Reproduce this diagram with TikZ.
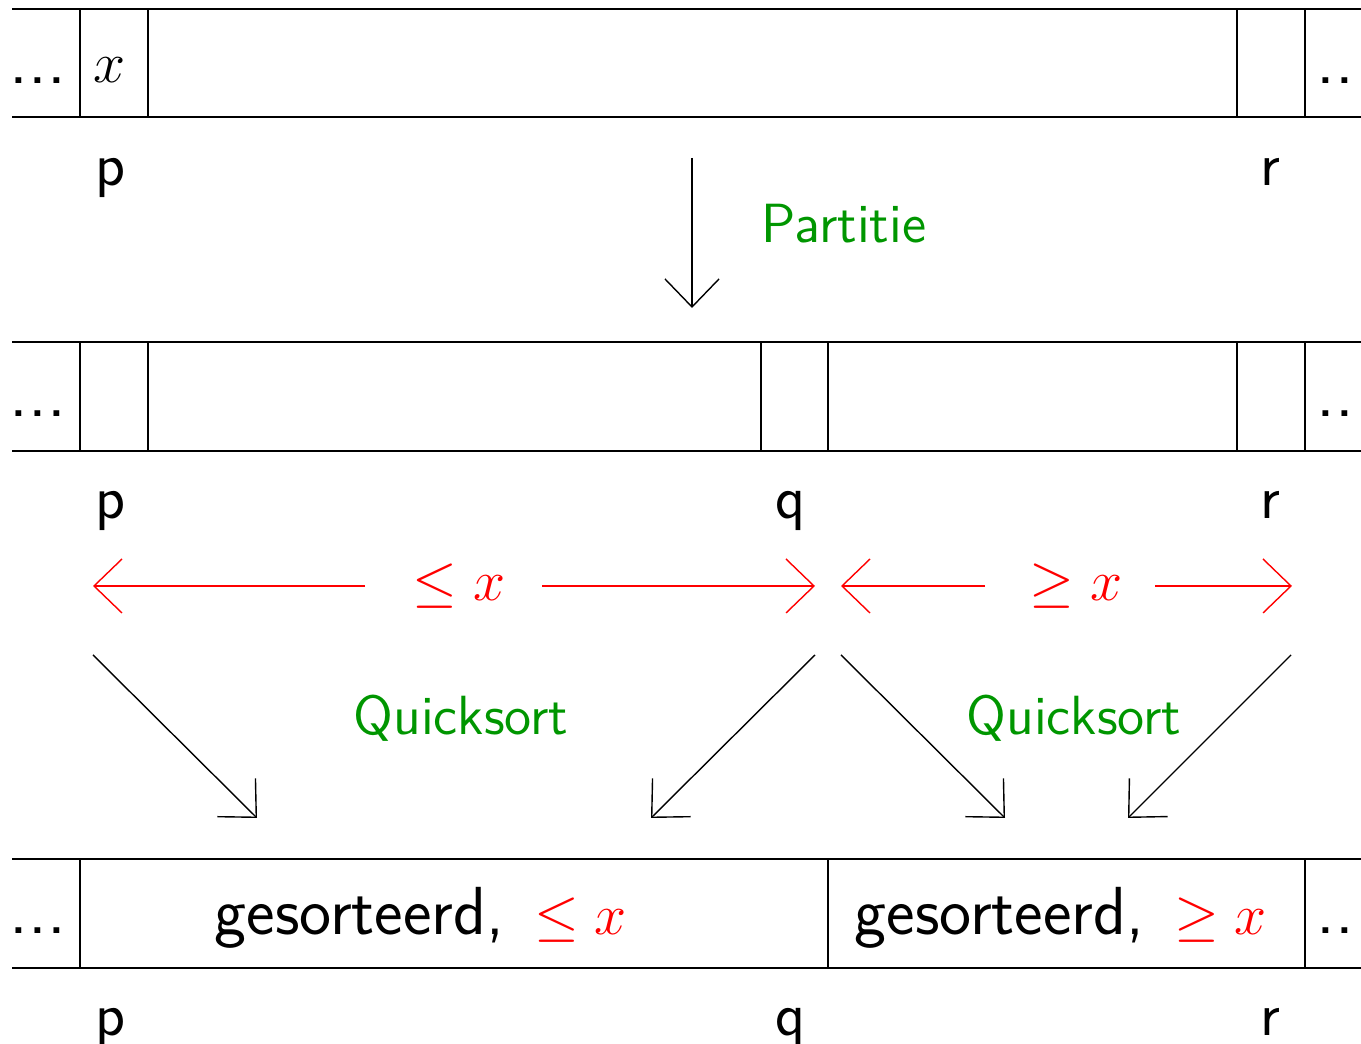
\documentclass[tikz,border=0pt]{standalone}
\usetikzlibrary{arrows.meta}
\definecolor{qsgreen}{RGB}{0,150,0}
\begin{document}
\begin{tikzpicture}[x=0.25pt,y=-0.25pt,
  cell/.style={line width=0.35pt,draw=black},
  lbl/.style={font=\sffamily\fontsize{15.5}{18}\selectfont,anchor=base,inner sep=0pt},
  dots/.style={font=\sffamily\fontsize{18}{20}\selectfont,anchor=base,inner sep=0pt},
  note/.style={font=\sffamily\fontsize{13.8}{16}\selectfont,anchor=base,inner sep=0pt,text=qsgreen},
  rel/.style={font=\fontsize{15}{18}\selectfont,anchor=base,inner sep=0pt,text=red},
  sorted/.style={font=\sffamily\fontsize{17}{20}\selectfont,anchor=base,inner sep=0pt},
  barb/.style={-{Straight Barb[length=7pt,width=13.5pt]}},
  flow/.style={barb,line width=0.35pt,draw=black},
  span/.style={barb,line width=0.35pt,draw=red}]
\useasboundingbox (0,0) rectangle (1361,1044);
\clip (0,0) rectangle (1361,1044);

% ---- array before partitioning
\draw[cell] (12,9) -- (1361,9) (12,117) -- (1361,117);
\foreach \c in {80,148,1237,1305} \draw[cell] (\c,9) -- (\c,117);
\node[dots] (d1l) at (38,84) {...};
\node[dots] (d1r) at (1335,84) {..};
\node[lbl] (pivot) at (110,83) {$x$};
\node[lbl] (p1) at (111,186) {p};
\node[lbl] (r1) at (1270,186) {r};

% ---- partition step
\coordinate (partTop) at (692,158);
\coordinate (partBot) at (692,308);
\draw[flow] (partTop) -- (partBot);
\node[note] (part) at (844,243) {Partitie};

% ---- array after partitioning
\draw[cell] (12,342) -- (1361,342) (12,451) -- (1361,451);
\foreach \c in {80,148,761,828,1237,1305} \draw[cell] (\c,342) -- (\c,451);
\node[dots] (d2l) at (38,417) {...};
\node[dots] (d2r) at (1335,417) {..};
\node[lbl] (p2) at (111,519) {p};
\node[lbl] (q2) at (790,519) {q};
\node[lbl] (r2) at (1270,519) {r};

% ---- ranges of the two parts
\node[rel] (le) at (459,601) {$\leq x$};
\node[rel] (ge) at (1076,601) {$\geq x$};
\coordinate (leL) at (93,586);
\coordinate (leR) at (815,586);
\coordinate (geL) at (841,586);
\coordinate (geR) at (1292,586);
\draw[span] (365,586) -- (leL);
\draw[span] (542,586) -- (leR);
\draw[span] (985,586) -- (geL);
\draw[span] (1155,586) -- (geR);

% ---- recursive calls
\coordinate (a1) at (93,655);   \coordinate (b1) at (257,818);
\coordinate (a2) at (815,655);  \coordinate (b2) at (651,818);
\coordinate (a3) at (841,655);  \coordinate (b3) at (1005,818);
\coordinate (a4) at (1291,655); \coordinate (b4) at (1128,818);
\draw[flow] (a1) -- (b1);
\draw[flow] (a2) -- (b2);
\draw[flow] (a3) -- (b3);
\draw[flow] (a4) -- (b4);
\node[note] (qs1) at (461,735) {Quicksort};
\node[note] (qs2) at (1074,735) {Quicksort};

% ---- sorted result
\draw[cell] (12,859) -- (1361,859) (12,968) -- (1361,968);
\foreach \c in {80,828,1305} \draw[cell] (\c,859) -- (\c,968);
\node[dots] (d3l) at (38,934) {...};
\node[dots] (d3r) at (1335,934) {..};
\node[sorted] (s1) at (421,935) {gesorteerd,\hspace{7.5pt}{\fontsize{15}{18}\selectfont\color{red}$\leq x$}};
\node[sorted] (s2) at (1061,935) {gesorteerd,\hspace{7.5pt}{\fontsize{15}{18}\selectfont\color{red}$\geq x$}};
\node[lbl] (p3) at (111,1036) {p};
\node[lbl] (q3) at (790,1036) {q};
\node[lbl] (r3) at (1270,1036) {r};
\end{tikzpicture}
\end{document}
